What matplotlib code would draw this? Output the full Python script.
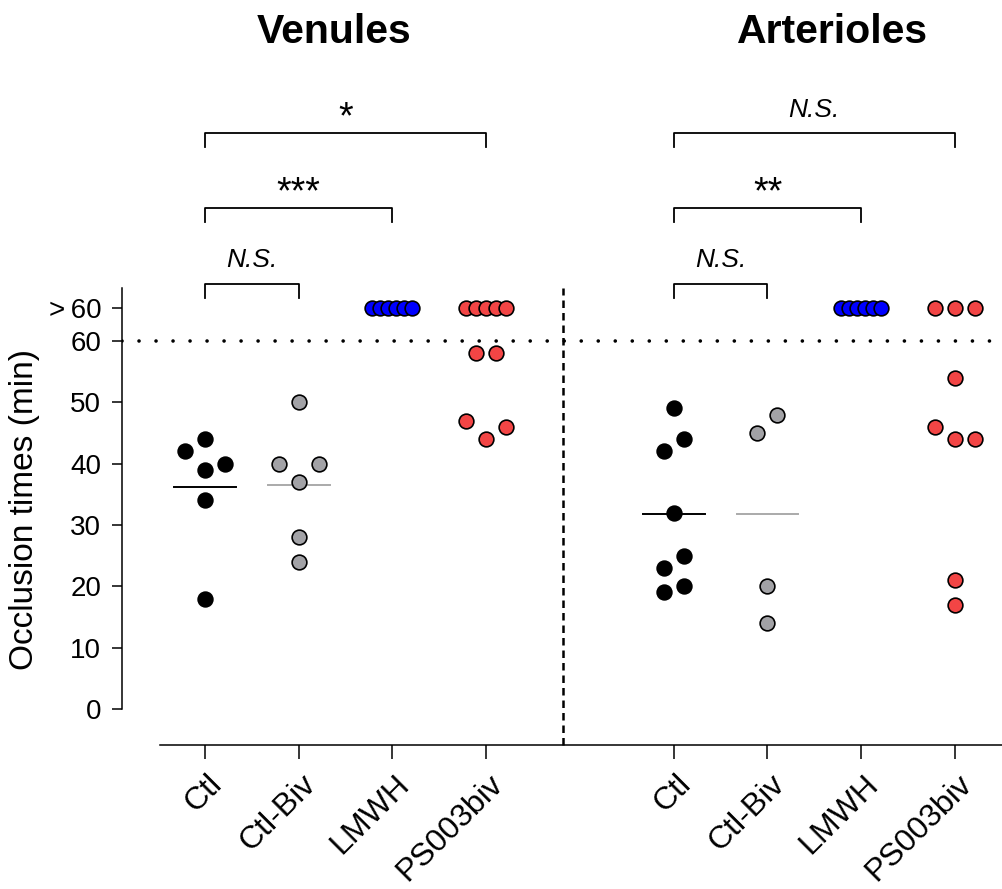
import matplotlib
matplotlib.use("Agg")
import matplotlib.pyplot as plt
import matplotlib.transforms as mtransforms
import numpy as np

plt.rcParams["font.family"] = ["Liberation Sans", "DejaVu Sans"]

# np.inf = no occlusion within 60 min (plotted on the "> 60" row)
OVER = np.inf

panels = ["Venules", "Arterioles"]
groups = ["Ctl", "Ctl-Biv", "LMWH", "PS003biv"]

ven_ctl = [42, 44, 40, 39, 34, 18]
ven_ctl_biv = [50, 40, 37, 40, 28, 24]
ven_lmwh = [OVER] * 6
ven_ps003 = [OVER] * 5 + [58, 58, 47, 44, 46]

art_ctl = [49, 44, 42, 32, 25, 23, 20, 19]
art_ctl_biv = [48, 45, 20, 14]
art_lmwh = [OVER] * 6
art_ps003 = [OVER] * 3 + [54, 46, 44, 44, 21, 17]

ven_stats = [("Ctl-Biv", "N.S."), ("LMWH", "***"), ("PS003biv", "*")]
art_stats = [("Ctl-Biv", "N.S."), ("LMWH", "**"), ("PS003biv", "N.S.")]

y_ticks = [0, 10, 20, 30, 40, 50, 60]
over_y = 65.4

colors = {"Ctl": "black", "Ctl-Biv": "#A2A2A6", "LMWH": "#0000FF", "PS003biv": "#F24545"}
mean_colors = {"Ctl": "black", "Ctl-Biv": "#AAAAAA"}

panel_data = [
    [ven_ctl, ven_ctl_biv, ven_lmwh, ven_ps003],
    [art_ctl, art_ctl_biv, art_lmwh, art_ps003],
]
panel_stats = [ven_stats, art_stats]
panel_x0 = [0, 5]
title_x = [1.38, 6.69]

fig = plt.figure(figsize=(10.03, 8.89), dpi=100)
ax = fig.add_axes([122 / 1003, 144 / 889, 881 / 1003, 745 / 889])
ax.set_xlim(-0.885, 8.512)
ax.set_ylim(-5.87, 115.6)

SLOT = 20.0  # px between neighbouring points in a swarm


def swarm_px(ys_px):
    """Slot-based beeswarm: horizontal offsets (px) for given pixel heights."""
    order = np.argsort(ys_px)
    offs = np.zeros(len(ys_px))
    placed = []
    cands = [0.0]
    for k in range(1, 6):
        cands += [k * SLOT, -k * SLOT]
    for i in order:
        for c in cands:
            clash = any(abs(ys_px[j] - ys_px[i]) < SLOT - 1e-6 and abs(offs[j] - c) < SLOT - 1e-6
                        for j in placed)
            if not clash:
                offs[i] = c
                break
        placed.append(i)
    # centre each vertical cluster around the category
    clusters = [[order[0]]]
    for a, b in zip(order[:-1], order[1:]):
        if ys_px[b] - ys_px[a] < SLOT:
            clusters[-1].append(b)
        else:
            clusters.append([b])
    for cl in clusters:
        offs[cl] -= (offs[cl].min() + offs[cl].max()) / 2
    return offs


to_px = ax.transData
to_data = ax.transData.inverted()

for p, data in enumerate(panel_data):
    for g, vals in enumerate(data):
        xc = panel_x0[p] + g
        name = groups[g]
        vals = np.asarray(vals, dtype=float)
        over = np.isinf(vals)
        y_plot = np.where(over, over_y, vals)
        pts = to_px.transform(np.column_stack([np.full(len(vals), xc), y_plot]))
        offs = np.zeros(len(vals))
        if (~over).any():
            offs[~over] = swarm_px(pts[~over, 1])
        n_over = over.sum()
        if n_over > 1:
            step = min(SLOT, 2 * SLOT / (n_over - 1))
            offs[over] = (np.arange(n_over) - (n_over - 1) / 2) * step
        xy = to_data.transform(np.column_stack([pts[:, 0] + offs, pts[:, 1]]))
        for k in np.argsort(xy[:, 0]):
            ax.plot(xy[k, 0], xy[k, 1], "o", ms=10.6, mfc=colors[name],
                    mec="black", mew=1.2, zorder=3, clip_on=False)
        if name in mean_colors:
            m = vals[~over].mean()
            ax.plot([xc - 0.33, xc + 0.33], [m, m], color=mean_colors[name],
                    lw=1.4, zorder=2)

    # significance brackets
    levels = [69.3, 81.7, 93.9]
    x_left = panel_x0[p]
    for (target, label), yb in zip(panel_stats[p], levels):
        x_right = panel_x0[p] + groups.index(target)
        ax.plot([x_left, x_left, x_right, x_right], [yb - 2.3, yb, yb, yb - 2.3],
                color="black", lw=1.3, clip_on=False)
        xm = (x_left + x_right) / 2
        if label == "N.S.":
            ax.text(xm, yb + 2.7, label, ha="center", va="baseline",
                    fontsize=19, style="italic")
        else:
            ax.text(xm, yb + 0.8, label, ha="center", va="baseline", fontsize=27)

    ax.text(title_x[p], 108.6, panels[p], ha="center", va="baseline",
            fontsize=29.5, fontweight="bold")

# reference lines
ax.axhline(60, color="black", lw=2.6, ls=(0, (0.01, 4.7)),
           dash_capstyle="round", zorder=1)
ax.plot([3.82, 3.82], [-5.87, 68.6], color="black", lw=1.8,
        ls=(0, (3, 2)), zorder=1, clip_on=False)

# axes styling
for side in ["top", "right"]:
    ax.spines[side].set_visible(False)
ax.spines["left"].set_bounds(0, 68.6)
ax.spines["bottom"].set_bounds(-0.48, 8.512)
ax.spines["left"].set_linewidth(1.1)
ax.spines["bottom"].set_linewidth(1.1)

ax.set_yticks(y_ticks + [over_y])
ax.set_yticklabels([str(t) for t in y_ticks] + [">\u200960"])
ax.tick_params(axis="y", length=7, width=1.1, pad=8, labelsize=20)

xticks = [panel_x0[p] + g for p in range(2) for g in range(len(groups))]
ax.set_xticks(xticks)
ax.set_xticklabels(groups * 2, rotation=45, ha="right", va="center",
                   rotation_mode="anchor", fontsize=23)
ax.tick_params(axis="x", length=10, width=1.1, pad=15)
offset = mtransforms.ScaledTranslation(9 / 72, 0, fig.dpi_scale_trans)
for lab in ax.get_xticklabels():
    lab.set_transform(lab.get_transform() + offset)

fig.text(25 / 1003, 1 - 510 / 889, "Occlusion times (min)", rotation=90,
         ha="center", va="center", fontsize=24)

fig.savefig("out.png", dpi=100)
